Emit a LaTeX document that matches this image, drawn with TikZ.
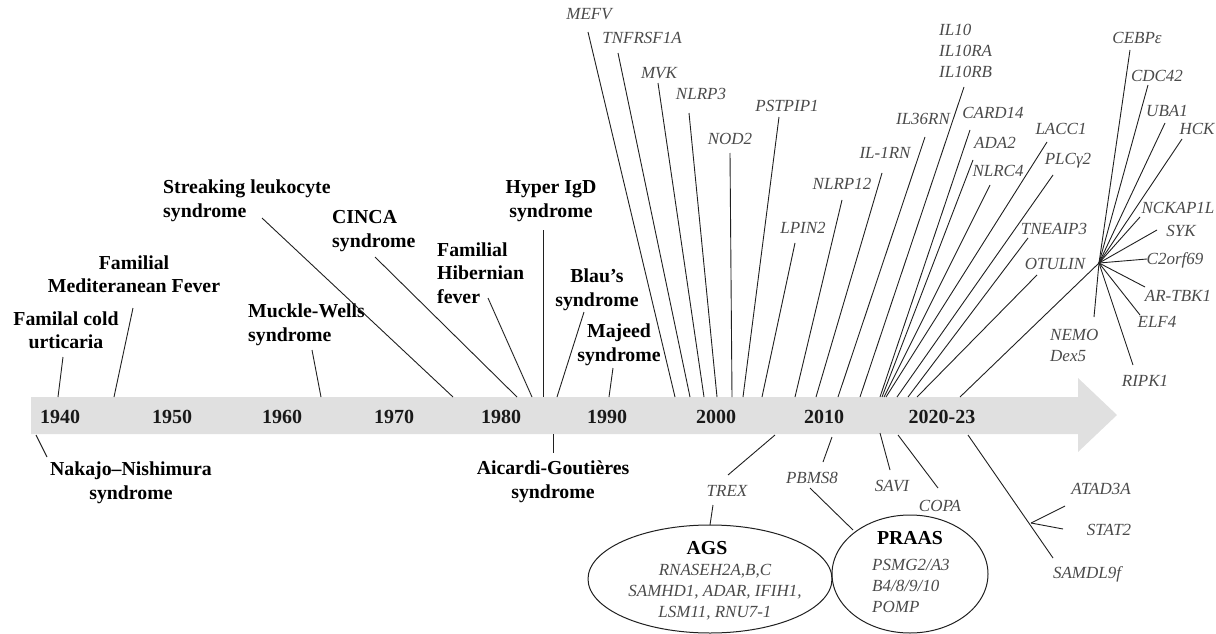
\documentclass[tikz,border=0pt]{standalone}
\usepackage{fontspec}
\setmainfont{Liberation Serif}
\usetikzlibrary{shapes.geometric}
\definecolor{barfill}{HTML}{E0E0E0}
\definecolor{genegray}{HTML}{4A4A4A}
\definecolor{linecol}{HTML}{202020}
\tikzset{
  dis/.style={font=\bfseries\fontsize{19.8}{23.5}\selectfont, align=center, inner sep=0pt, text=black},
  disl/.style={dis, align=left, anchor=west},
  gene/.style={font=\itshape\fontsize{17}{21}\selectfont, inner sep=0pt, text=genegray},
  genel/.style={gene, align=left, anchor=west},
  yr/.style={font=\bfseries\fontsize{20}{24}\selectfont, inner sep=0pt, text=black!90},
  conn/.style={draw=linecol, line width=0.9pt},
  ring/.style={draw=linecol, line width=1pt, ellipse, inner sep=0pt, outer sep=0pt},
}
\begin{document}
\begin{tikzpicture}[x=1pt,y=-1pt]
\useasboundingbox (0,0) rectangle (1216,634);
% timeline arrow
\fill[barfill] (31,397) -- (1078,397) -- (1078,378) -- (1117,415) -- (1078,452) -- (1078,434) -- (31,434) -- cycle;
\node[yr] (y1940) at (60,417) {1940};
\node[yr] (y1950) at (172,417) {1950};
\node[yr] (y1960) at (282,417) {1960};
\node[yr] (y1970) at (394,417) {1970};
\node[yr] (y1980) at (501,417) {1980};
\node[yr] (y1990) at (607,417) {1990};
\node[yr] (y2000) at (716,417) {2000};
\node[yr] (y2010) at (824,417) {2010};
\node[yr] (y2020) at (942,417) {2020-23};

% disease labels above
\node[dis] (fcu) at (66,330) {Familal cold\\urticaria};
\node[dis] (fmf) at (134,274) {Familial\\Mediteranean Fever};
\node[disl] (mws) at (248,325) {Muckle-Wells\\syndrome};
\node[disl] (sls) at (163,201) {Streaking leukocyte\\syndrome};
\node[disl] (cinca) at (332,231) {CINCA\\syndrome};
\node[disl] (fhf) at (437,273) {Familial\\Hibernian\\fever};
\node[dis] (hids) at (551,201) {Hyper IgD\\syndrome};
\node[dis] (blau) at (597,290) {Blau’s\\syndrome};
\node[dis] (majeed) at (619,345) {Majeed\\syndrome};
% disease labels below
\node[dis] (nns) at (131,483) {Nakajo--Nishimura\\syndrome};
\node[dis] (agsd) at (553,482) {Aicardi-Goutières\\syndrome};

% disease connector end points
\foreach \n/\ax/\ay/\bx/\by in {fcu/63/357/58/397, fmf/133/308/114/397, mws/312/350/321/397,
  sls/262/218/453/397, cinca/375/257/517/397, fhf/488/298/532/397, hids/543/230/543/397,
  blau/584/312/557/397, majeed/613/368/609/397, nns/36/435/47/457, agsd/553/434/553/453}{
  \coordinate (\n-a) at (\ax,\ay);
  \coordinate (\n-b) at (\bx,\by);
  \draw[conn] (\n-a) -- (\n-b);
}

% gene labels above
\node[gene] (mefv) at (589,14) {MEFV};
\node[gene] (tnfrsf) at (642,38) {TNFRSF1A};
\node[gene] (mvk) at (659,73) {MVK};
\node[gene] (nlrp3) at (701,94) {NLRP3};
\node[gene] (nod2) at (730,139) {NOD2};
\node[gene] (pstpip) at (787,106) {PSTPIP1};
\node[gene] (lpin) at (803,228) {LPIN2};
\node[gene] (nlrp12) at (842,184) {NLRP12};
\node[gene] (il1rn) at (885,153) {IL-1RN};
\node[gene] (il36rn) at (923,119) {IL36RN};
\node[genel] (il10) at (939,51) {IL10\\IL10RA\\IL10RB};
\node[gene] (card) at (993,113) {CARD14};
\node[gene] (ada) at (995,143) {ADA2};
\node[gene] (nlrc) at (998,171) {NLRC4};
\node[gene] (lacc) at (1061,129) {LACC1};
\node[gene] (plcg) at (1068,161) {PLCγ2};
\node[gene] (tnfaip) at (1054,229) {TNEAIP3};
\node[gene] (otulin) at (1055,264) {OTULIN};

\foreach \n/\ax/\ay/\bx/\by in {mefv/588/32/675/397, tnfrsf/618/53/690/397, mvk/658/83/704/397,
  nlrp3/689/113/717/397, nod2/730/153/732/397, pstpip/779/117/743/397, lpin/795/243/762/397,
  nlrp12/842/200/795/397, il1rn/882/173/816/397, il36rn/925/137/838/397, il10/964/87/860/397,
  card/970/130/880/397, ada/973/160/882/397, nlrc/990/185/884/397, lacc/1047/142/886/397,
  plcg/1053/175/897/397, tnfaip/1028/238/908/397, otulin/1037/275/917/397}{
  \coordinate (\n-a) at (\ax,\ay);
  \coordinate (\n-b) at (\bx,\by);
  \draw[conn] (\n-a) -- (\n-b);
}

% hub of recent genes
\coordinate (hub) at (1099,263);
\coordinate (hub-b) at (960,397);
\draw[conn] (hub) -- (hub-b);
\node[gene] (cebp) at (1137,38) {CEBPε};
\node[gene] (cdc) at (1157,76) {CDC42};
\node[gene] (uba) at (1167,111) {UBA1};
\node[gene] (hck) at (1197,129) {HCK};
\node[gene] (nckap) at (1178,208) {NCKAP1L};
\node[gene] (syk) at (1181,231) {SYK};
\node[gene] (c2orf) at (1175,260) {C2orf69};
\node[gene] (artbk) at (1178,296) {AR-TBK1};
\node[gene] (elf) at (1157,322) {ELF4};
\node[gene] (ripk) at (1145,381) {RIPK1};
\node[genel] (nemo) at (1050,345) {NEMO\\Dex5};
\foreach \n/\bx/\by in {cebp/1130/50, cdc/1148/85, uba/1165/123, hck/1182/139, nckap/1140/217,
  syk/1157/230, c2orf/1147/259, artbk/1145/287, elf/1140/315, ripk/1133/365, nemo/1094/317}{
  \coordinate (\n-b) at (\bx,\by);
  \draw[conn] (hub) -- (\n-b);
}

% below the bar
\node[gene] (trex) at (727,491) {TREX};
\node[gene] (pbms) at (812,478) {PBMS8};
\node[gene] (savi) at (892,486) {SAVI};
\node[gene] (copa) at (940,506) {COPA};
\node[gene] (atad) at (1101,489) {ATAD3A};
\node[gene] (stat) at (1109,530) {STAT2};
\node[gene] (samd) at (1087,574) {SAMDL9f};

\node[ring, minimum width=244pt, minimum height=108pt] (agsE) at (710,579) {};
\node[dis] (agsT) at (707,548) {AGS};
\node[gene, align=center] (agsG) at (715,592) {RNASEH2A,B,C\\SAMHD1, ADAR, IFIH1,\\LSM11, RNU7-1};
\node[ring, minimum width=156pt, minimum height=118pt] (praasE) at (910,574) {};
\node[dis] (praasT) at (910,538) {PRAAS};
\node[genel] (praasG) at (872,586) {PSMG2/A3\\B4/8/9/10\\POMP};

\foreach \n/\ax/\ay/\bx/\by in {trex/775/435/728/475, trexags/713/505/710/525, pbms/832/437/823/462,
  pbmspraas/810/488/853/530, savi/880/433/890/470, copa/898/435/938/488, samd/968/435/1053/558}{
  \coordinate (\n-a) at (\ax,\ay);
  \coordinate (\n-b) at (\bx,\by);
  \draw[conn] (\n-a) -- (\n-b);
}
\coordinate (samdj) at (1031,523);
\coordinate (atad-b) at (1065,506);
\coordinate (stat-b) at (1063,529);
\draw[conn] (samdj) -- (atad-b);
\draw[conn] (samdj) -- (stat-b);
\end{tikzpicture}
\end{document}
